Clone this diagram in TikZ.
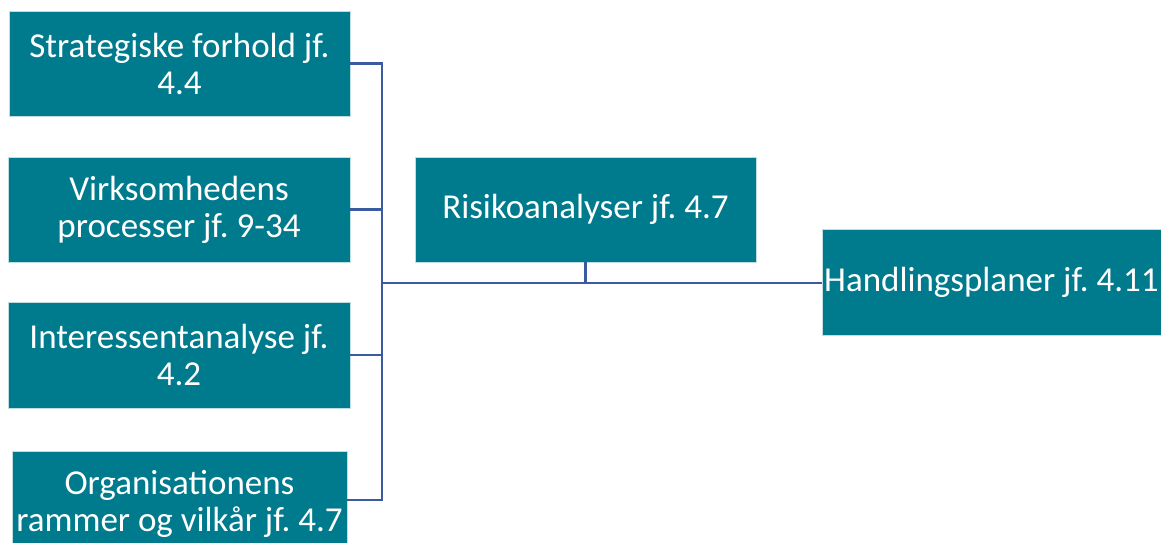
\documentclass[tikz,border=0pt]{standalone}
\usepackage{fontspec}
\setmainfont{Carlito}
\frenchspacing
\definecolor{boxteal}{RGB}{0,123,141}
\definecolor{linkblue}{RGB}{58,91,160}
\begin{document}
\begin{tikzpicture}[x=1pt,y=-1pt,
  box/.style={fill=boxteal, draw=white!75!boxteal, line width=0.8pt,
    text=white, align=center, inner sep=0pt,
    font=\fontsize{35}{37}\selectfont},
  link/.style={draw=linkblue, line width=2.4pt}]
\useasboundingbox (0,0) rectangle (1161,542);
% input boxes on the left
\node[box, minimum width=341, minimum height=105] (s) at (179.5,63.5) {Strategiske forhold jf.\\4.4};
\node[box, minimum width=342, minimum height=105] (v) at (179,209.5) {Virksomhedens\\processer jf. 9-34};
\node[box, minimum width=342, minimum height=106] (i) at (179,355) {Interessentanalyse jf.\\4.2};
\node[box, minimum width=335, minimum height=105] (o) at (179.5,503.5) {Organisationens\\rammer og vilkår jf. 4.7};
% analysis and outcome
\node[box, minimum width=341, minimum height=105] (r) at (585.5,209.5) {Risikoanalyser jf. 4.7};
\node[box, minimum width=339, minimum height=106] (h) at (991.5,282) {Handlingsplaner jf. 4.11};
% bracket joining the inputs
\coordinate (bt) at (382,63.5);
\coordinate (bb) at (382,500);
\coordinate (hub) at (382,283);
\coordinate (rj) at (585.5,283);
\draw[link] (s.east |- bt) -- (bt) -- (bb) -- (o.east |- bb);
\draw[link] (v.east) -- (v.east -| bt);
\draw[link] (i.east) -- (i.east -| bt);
\draw[link] (hub) -- (h.west |- hub);
\draw[link] (r.south) -- (rj);
\end{tikzpicture}
\end{document}
